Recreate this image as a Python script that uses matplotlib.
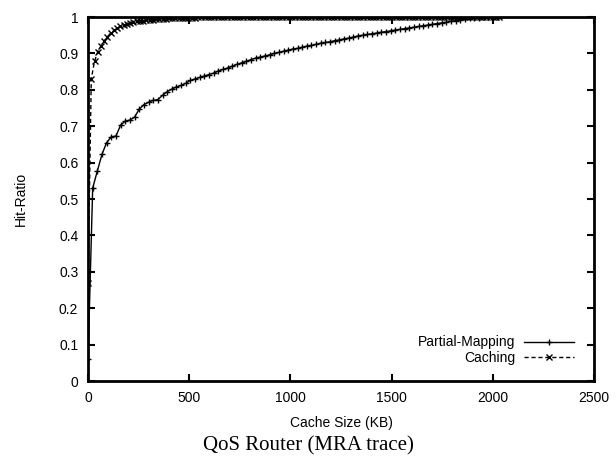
import matplotlib
matplotlib.use("Agg")
import matplotlib.pyplot as plt

# Partial-Mapping: one point every 23 KB
pm_step = 23
pm_hit = [0.06, 0.53, 0.577, 0.623, 0.655, 0.671, 0.673, 0.703, 0.714, 0.717,
          0.725, 0.747, 0.759, 0.766, 0.771, 0.773, 0.785, 0.795, 0.802, 0.808,
          0.812, 0.818, 0.826, 0.830, 0.834, 0.838, 0.842, 0.846, 0.852, 0.856,
          0.860, 0.865, 0.870, 0.874, 0.878, 0.883, 0.887, 0.890, 0.893, 0.896,
          0.900, 0.903, 0.906, 0.909, 0.912, 0.914, 0.917, 0.920, 0.922, 0.925,
          0.928, 0.930, 0.932, 0.935, 0.937, 0.940, 0.942, 0.945, 0.948, 0.950,
          0.952, 0.954, 0.956, 0.958, 0.960, 0.962, 0.964, 0.966, 0.968, 0.970,
          0.972, 0.974, 0.976, 0.978, 0.980, 0.982, 0.984, 0.986, 0.988, 0.990,
          0.992, 0.994, 0.996, 0.997, 0.998, 0.999, 0.999, 1.0, 1.0]
pm_size = [i * pm_step for i in range(len(pm_hit))]

# Caching: one point every 16 KB
c_step = 16
c_hit = [0.27, 0.83, 0.878, 0.905, 0.921, 0.934, 0.946, 0.956, 0.963, 0.969,
         0.974, 0.978, 0.981, 0.984, 0.986, 0.988, 0.989, 0.990, 0.991, 0.992,
         0.993, 0.994, 0.994, 0.995, 0.995, 0.996, 0.996, 0.997, 0.997, 0.997,
         0.998, 0.998, 0.998, 0.998, 0.999, 0.999, 0.999, 0.999, 0.999] + [1.0] * 89
c_size = [i * c_step for i in range(len(c_hit))]

plt.rcParams['font.family'] = ['Liberation Sans', 'DejaVu Sans']

fig = plt.figure(figsize=(6.16, 4.65), dpi=100)
ax = fig.add_axes([0.1429, 0.1806, 0.8214, 0.7828])

ax.plot(pm_size, pm_hit, color="black", lw=1, marker="+", ms=5, mew=1,
        label="Partial-Mapping")
ax.plot(c_size, c_hit, color="black", lw=1, ls=(0, (3, 2)), marker="x", ms=4,
        mew=1, label="Caching")

ax.set_xlim(0, 2500)
ax.set_ylim(0, 1)
ax.set_xticks([0, 500, 1000, 1500, 2000, 2500])
ax.set_yticks([0, 0.1, 0.2, 0.3, 0.4, 0.5, 0.6, 0.7, 0.8, 0.9, 1])
ax.set_yticklabels(["0", "0.1", "0.2", "0.3", "0.4", "0.5", "0.6", "0.7", "0.8", "0.9", "1"])
ax.tick_params(direction="in", top=True, right=True, length=5, width=1.5,
               labelsize=10, pad=7)
for s in ax.spines.values():
    s.set_linewidth(2)

ax.set_xlabel("Cache Size (KB)", fontsize=10, labelpad=8)
ax.set_ylabel("Hit-Ratio", fontsize=10, labelpad=22)

ax.legend(loc="lower right", bbox_to_anchor=(0.985, 0.01), frameon=False,
          markerfirst=False, handlelength=3.6, fontsize=10, labelspacing=0.1,
          handletextpad=0.6)

fig.text(0.5, 0.041, "QoS Router (MRA trace)", ha="center", va="center",
         fontsize=15, family="Liberation Serif")

plt.savefig("out.png", dpi=100)
